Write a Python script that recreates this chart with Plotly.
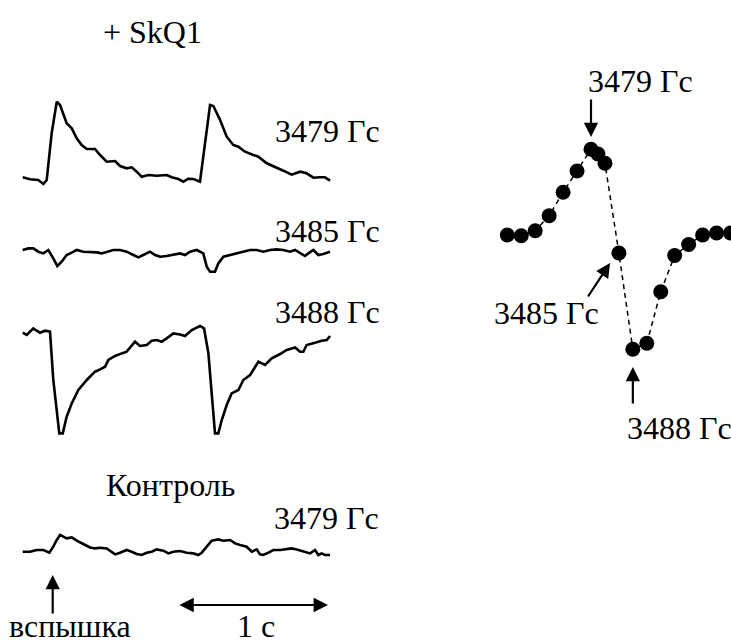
import plotly.graph_objects as go

W, H = 731, 644

# ---- time-resolved traces (time in s, amplitude in arb. units) ----
t_skq_3479 = [0.000, 0.049, 0.104, 0.138, 0.160, 0.193, 0.227, 0.249, 0.293, 0.327, 0.360, 0.393, 0.427, 0.482,
              0.516, 0.560, 0.616, 0.649, 0.693, 0.727, 0.760, 0.793, 0.838, 0.893, 0.960, 0.993, 1.038, 1.071,
              1.104, 1.138, 1.182, 1.216, 1.249, 1.271, 1.316, 1.360, 1.404, 1.438, 1.482, 1.538, 1.571, 1.627,
              1.693, 1.738, 1.793, 1.849, 1.893, 1.938, 1.982, 2.015, 2.049]
a_skq_3479 = [2.7, 0.7, 0.0, -4.0, 0.0, 46.7, 78.3, 75.0, 56.7, 51.7, 41.7, 35.0, 31.0, 31.0,
              25.0, 18.3, 19.0, 14.0, 11.7, 12.7, 8.3, 3.3, 5.0, 4.3, 5.0, 2.7, 1.0, -1.7,
              1.3, 1.0, -1.7, 36.7, 75.0, 74.0, 60.0, 43.3, 35.0, 33.3, 28.3, 25.0, 23.3, 16.7,
              12.7, 9.3, 5.3, 8.3, 6.7, 2.3, 2.7, 2.7, -0.7]

t_skq_3485 = [0.000, 0.038, 0.071, 0.104, 0.138, 0.171, 0.204, 0.231, 0.260, 0.293, 0.327, 0.360, 0.404, 0.449,
              0.493, 0.527, 0.560, 0.604, 0.649, 0.693, 0.738, 0.771, 0.804, 0.849, 0.882, 0.916, 0.960, 1.004,
              1.049, 1.082, 1.116, 1.160, 1.204, 1.227, 1.249, 1.282, 1.304, 1.338, 1.382, 1.427, 1.471, 1.516,
              1.560, 1.604, 1.649, 1.693, 1.738, 1.782, 1.816, 1.849, 1.882, 1.904, 1.938, 1.971, 2.004, 2.049]
a_skq_3485 = [1.7, 3.3, 3.3, 0.0, -1.7, 1.7, -6.7, -14.3, -10.0, -3.3, -1.0, 1.7, 0.0, 0.0,
              -0.7, -1.7, 0.0, 1.7, 1.7, 0.0, -3.3, -5.7, -3.3, 0.0, -3.3, -5.0, -4.3, -3.3,
              -1.7, -3.3, 0.0, 1.7, -1.7, -15.0, -20.0, -20.0, -11.7, -5.0, -3.3, -1.7, 0.0, 1.7,
              1.7, 0.0, 1.7, 2.3, 1.7, 0.0, 1.7, -1.7, -4.3, -1.7, 1.7, -3.3, -2.3, 0.0]

t_skq_3488 = [0.000, 0.027, 0.049, 0.071, 0.093, 0.116, 0.149, 0.182, 0.204, 0.227, 0.244, 0.267, 0.293, 0.327,
              0.371, 0.427, 0.482, 0.516, 0.549, 0.571, 0.616, 0.660, 0.693, 0.749, 0.782, 0.827, 0.860, 0.893,
              0.927, 0.960, 1.004, 1.049, 1.082, 1.127, 1.182, 1.209, 1.238, 1.260, 1.282, 1.304, 1.327, 1.360,
              1.393, 1.438, 1.471, 1.516, 1.571, 1.616, 1.660, 1.716, 1.760, 1.816, 1.849, 1.871, 1.893, 1.949,
              1.993, 2.027, 2.049]
a_skq_3488 = [-1.0, -3.3, 0.0, 3.3, 1.0, -1.0, 1.0, 0.0, -48.3, -81.7, -101.7, -101.7, -85.0, -71.7,
              -58.3, -48.3, -40.0, -37.7, -35.0, -28.3, -24.3, -21.7, -20.0, -10.0, -14.3, -13.3, -9.0, -8.3,
              -10.0, -6.7, -1.7, -2.7, -4.3, 1.7, 5.7, 3.3, -21.7, -61.7, -101.7, -101.7, -88.3, -73.3,
              -61.7, -58.3, -48.3, -43.3, -30.0, -33.3, -26.7, -22.3, -18.3, -15.7, -20.0, -20.0, -13.3, -11.0,
              -9.0, -8.3, -4.3]

t_ctrl_3479 = [0.000, 0.049, 0.093, 0.138, 0.178, 0.204, 0.227, 0.249, 0.271, 0.293, 0.327, 0.360, 0.404, 0.449,
               0.482, 0.516, 0.560, 0.582, 0.616, 0.649, 0.693, 0.727, 0.760, 0.793, 0.827, 0.860, 0.893, 0.938,
               0.971, 1.004, 1.049, 1.093, 1.138, 1.171, 1.193, 1.227, 1.260, 1.304, 1.338, 1.382, 1.416, 1.449,
               1.493, 1.527, 1.560, 1.582, 1.604, 1.638, 1.671, 1.716, 1.760, 1.793, 1.827, 1.871, 1.916, 1.949,
               1.971, 1.993, 2.015, 2.049]
a_ctrl_3479 = [0.0, 0.0, 1.7, 1.7, -1.0, 5.0, 11.7, 16.7, 15.0, 13.3, 14.3, 11.0, 7.7, 4.3,
               3.3, 4.0, 3.3, 0.7, -2.7, -1.0, 1.7, 0.0, -2.3, -3.3, -1.0, 0.0, 2.3, 1.0,
               -1.7, 0.0, 0.7, -1.0, -1.7, -3.3, -1.0, 5.0, 11.0, 12.3, 11.0, 11.7, 8.3, 6.7,
               5.0, 0.0, 2.3, -2.7, -3.3, -1.0, 1.7, 1.7, 2.3, 3.3, 2.3, 0.0, -1.7, 1.7,
               -3.3, -1.7, -3.3, -3.3]

# ---- field dependence of the light-induced signal ----
field_G = [3461, 3464, 3467, 3470, 3473, 3476, 3479, 3480.5, 3482, 3485, 3488, 3491, 3494, 3497, 3500, 3503, 3506, 3509]
signal_G = [0.0, -0.7, 4.3, 19.3, 42.7, 64.0, 85.7, 81.0, 71.7, -18.0, -114.3, -108.3, -56.7, -20.5, -9.5, 0.0, 2.0, 2.0]

# ---- layout constants (pixels) ----
T0_PX, PX_PER_S = 22.7, 150.0
B0, B0_PX, PX_PER_G = 3479, 591.0, 4.65
BASE1, BASE2, BASE3, BASE4, BASE5 = 180.0, 251.7, 331.7, 551.7, 235.0

FONT = "Liberation Serif"
FS = 32


def px(x):
    return x / W


def py(y):
    return 1 - y / H


fig = go.Figure()
line = dict(color="black", width=2.6)
fig.add_trace(go.Scatter(x=t_skq_3479, y=a_skq_3479, mode="lines", line=line, xaxis="x", yaxis="y"))
fig.add_trace(go.Scatter(x=t_skq_3485, y=a_skq_3485, mode="lines", line=line, xaxis="x", yaxis="y2"))
fig.add_trace(go.Scatter(x=t_skq_3488, y=a_skq_3488, mode="lines", line=line, xaxis="x", yaxis="y3"))
fig.add_trace(go.Scatter(x=t_ctrl_3479, y=a_ctrl_3479, mode="lines", line=line, xaxis="x", yaxis="y4"))
fig.add_trace(go.Scatter(x=field_G, y=signal_G, mode="lines+markers",
                         line=dict(color="black", width=1.5, dash="5px,4px"),
                         marker=dict(color="black", size=15),
                         xaxis="x2", yaxis="y5"))

hidden = dict(visible=False, fixedrange=True)
xr = [-T0_PX / PX_PER_S, (W - T0_PX) / PX_PER_S]
xr2 = [B0 - B0_PX / PX_PER_G, B0 + (W - B0_PX) / PX_PER_G]


def yr(base):
    return [base - H, base]


fig.update_layout(
    width=W, height=H, margin=dict(l=0, r=0, t=0, b=0),
    paper_bgcolor="white", plot_bgcolor="rgba(0,0,0,0)", showlegend=False,
    xaxis=dict(domain=[0, 1], range=xr, anchor="y", **hidden),
    xaxis2=dict(domain=[0, 1], range=xr2, anchor="y5", **hidden),
    yaxis=dict(domain=[0, 1], range=yr(BASE1), anchor="x", **hidden),
    yaxis2=dict(domain=[0, 1], range=yr(BASE2), anchor="x", **hidden),
    yaxis3=dict(domain=[0, 1], range=yr(BASE3), anchor="x", **hidden),
    yaxis4=dict(domain=[0, 1], range=yr(BASE4), anchor="x", **hidden),
    yaxis5=dict(domain=[0, 1], range=yr(BASE5), anchor="x2", **hidden),
)

tf = dict(family=FONT, size=FS, color="black")


def label(text, x, y, xanchor="left"):
    fig.add_annotation(text=text, x=px(x), y=py(y), xref="paper", yref="paper",
                       xanchor=xanchor, yanchor="middle", showarrow=False, font=tf)


label("+ SkQ1", 101, 32)
label("3479 Гс", 273, 131)
label("3485 Гс", 273, 231)
label("3488 Гс", 273, 312)
label("Контроль", 170, 485, "center")
label("3479 Гс", 272, 518)
label("вспышка", 70, 626, "center")
label("1 с", 256, 626, "center")
label("3479 Гс", 640, 81, "center")
label("3485 Гс", 546, 313, "center")
label("3488 Гс", 625, 428)

arr = dict(showarrow=True, arrowhead=2, arrowsize=1.3, arrowwidth=2.2, arrowcolor="black", text="", standoff=0)

# flash arrow (at the first flash time)
fig.add_annotation(x=0.2, y=py(575), xref="x", yref="paper", ax=0, ay=40, **arr)
# 1 s scale bar
fig.add_annotation(x=2.035, y=py(605), xref="x", yref="paper", ax=1.035, ay=0, axref="x", ayref="pixel",
                   arrowside="end+start", **arr)
# field markers
fig.add_annotation(x=3479, y=py(137), xref="x2", yref="paper", ax=0, ay=-39, **arr)
fig.add_annotation(x=3485 - 1.9, y=py(263), xref="x2", yref="paper", ax=-23, ay=35, **arr)
fig.add_annotation(x=3488, y=py(367), xref="x2", yref="paper", ax=0, ay=38, **arr)

fig.write_html("out.html")
